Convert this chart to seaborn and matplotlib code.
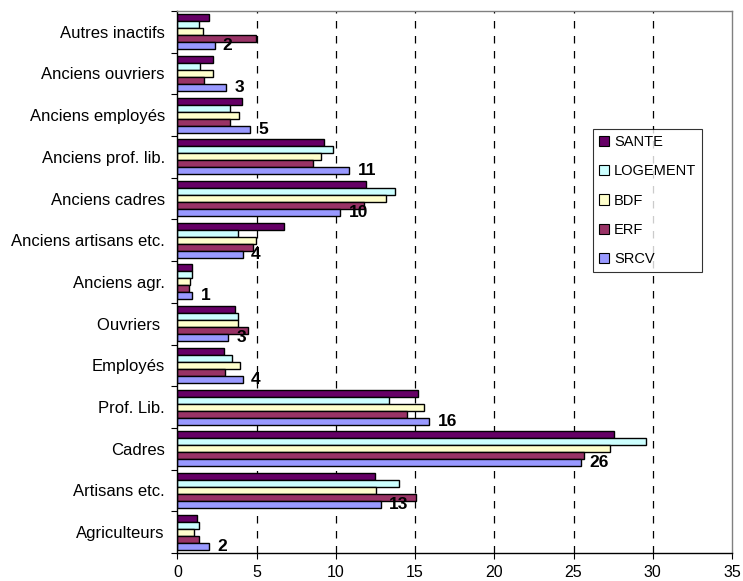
import pandas as pd
import matplotlib
matplotlib.use("Agg")
from matplotlib import pyplot as plt
from matplotlib.ticker import MultipleLocator
import seaborn as sns

categories = ["Autres inactifs", "Anciens ouvriers", "Anciens employés",
              "Anciens prof. lib.", "Anciens cadres", "Anciens artisans etc.",
              "Anciens agr.", "Ouvriers ", "Employés", "Prof. Lib.", "Cadres",
              "Artisans etc.", "Agriculteurs"]
series = ["SANTE", "LOGEMENT", "BDF", "ERF", "SRCV"]

sante    = [1.98, 2.27, 4.06, 9.24, 11.91, 6.72, 0.93, 3.66, 2.93, 15.19, 27.57, 12.47, 1.22]
logement = [1.33, 1.41, 3.31, 9.79, 13.72, 3.85, 0.93, 3.85, 3.47, 13.38, 29.58, 13.97, 1.33]
bdf      = [1.60, 2.25, 3.87, 9.05, 13.15, 4.99, 0.80, 3.83, 3.94, 15.57, 27.29, 12.53, 1.03]
erf      = [4.99, 1.68, 3.31, 8.57, 11.77, 4.78, 0.74, 4.44, 3.01, 14.52, 25.69, 15.04, 1.33]
srcv     = [2.34, 3.09, 4.61, 10.84, 10.28, 4.13, 0.93, 3.20, 4.13, 15.90, 25.48, 12.84, 1.97]
srcv_labels = ["2", "3", "5", "11", "10", "4", "1", "3", "4", "16", "26", "13", "2"]

colors = ["#660066", "#CCFFFF", "#FFFFCC", "#993366", "#9999FF"]

rows = []
for name, vals in zip(series, [sante, logement, bdf, erf, srcv]):
    for cat, v in zip(categories, vals):
        rows.append({"cat": cat, "serie": name, "val": v})
df = pd.DataFrame(rows)

sns.set_style("white")
plt.rcParams["font.family"] = ["Liberation Sans", "DejaVu Sans"]
plt.rcParams["text.color"] = "black"
plt.rcParams["xtick.labelcolor"] = "black"
plt.rcParams["ytick.labelcolor"] = "black"

fig = plt.figure(figsize=(7.43, 5.81), dpi=100)
ax = fig.add_axes([0.2388, 0.0482, 0.7464, 0.933])

sns.barplot(data=df, y="cat", x="val", hue="serie", order=categories,
            hue_order=series, palette=colors, orient="h", width=0.84,
            edgecolor="black", linewidth=1.0, saturation=1, ax=ax)

ax.bar_label(ax.containers[4], labels=srcv_labels, padding=6,
             fontsize=12.5, fontweight="bold", color="black")

ax.set_xlim(0, 35)
ax.xaxis.set_major_locator(MultipleLocator(5))
ax.set_xlabel("")
ax.set_ylabel("")
for v in range(5, 35, 5):
    ax.axvline(v, color="black", linestyle=(0, (6, 6)), linewidth=0.9, zorder=0)

# ticks between categories, Excel style
ax.yaxis.set_major_locator(plt.FixedLocator(range(len(categories))))
ax.set_yticks([i - 0.5 for i in range(len(categories) + 1)], minor=True)
ax.tick_params(axis="y", which="major", length=0, labelsize=12, pad=9)
ax.tick_params(axis="y", which="minor", length=4, width=0.8, color="black", left=True)
ax.tick_params(axis="x", which="major", length=4, width=0.8, color="black",
               bottom=True, labelsize=11.5, pad=4.5)

for side in ["left", "bottom"]:
    ax.spines[side].set_color("black")
    ax.spines[side].set_linewidth(1.0)
for side in ["top", "right"]:
    ax.spines[side].set_color("#808080")
    ax.spines[side].set_linewidth(1.0)

leg = ax.legend(loc="upper left", bbox_to_anchor=(0.749, 0.782), fontsize=10.5,
                frameon=True, fancybox=False, edgecolor="black",
                handlelength=0.7, handleheight=0.7, labelspacing=1.05,
                borderpad=0.4, handletextpad=0.35, borderaxespad=0)
leg.get_frame().set_linewidth(0.8)
for h in leg.legend_handles:
    h.set_edgecolor("black")
    h.set_linewidth(0.8)

plt.savefig("out.png", dpi=100)
